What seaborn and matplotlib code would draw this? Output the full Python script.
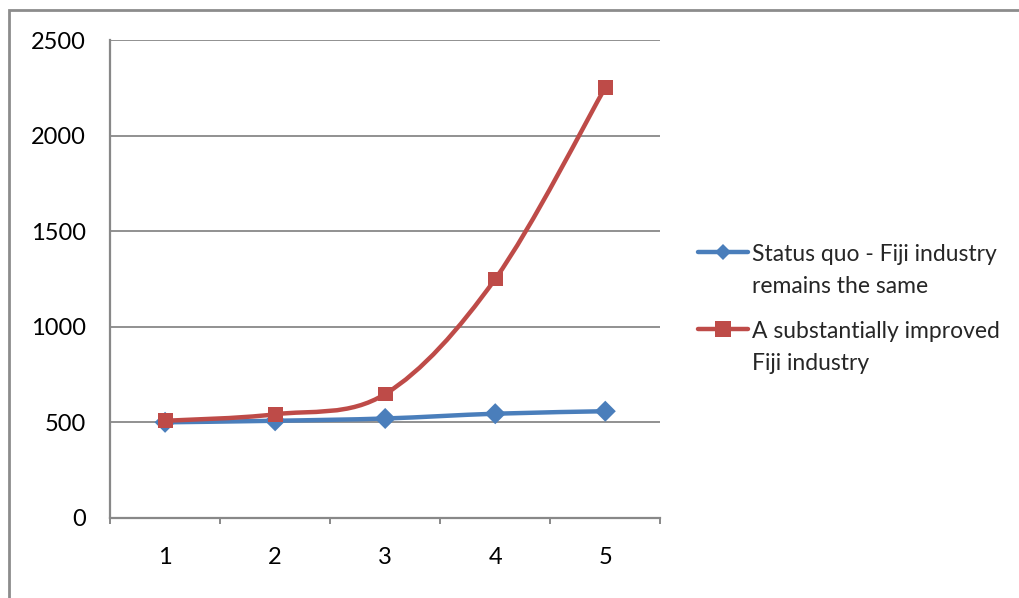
import numpy as np
import pandas as pd
import matplotlib
matplotlib.use("Agg")
import matplotlib.pyplot as plt
from matplotlib.path import Path
from matplotlib.patches import PathPatch, Rectangle
from matplotlib.lines import Line2D
import seaborn as sns

# data
years = [1, 2, 3, 4, 5]
status_quo = [500, 508, 520, 545, 558]
improved = [508, 542, 648, 1250, 2252]
series_names = ["Status quo - Fiji industry\nremains the same",
                "A substantially improved\nFiji industry"]
y_ticks = [0, 500, 1000, 1500, 2000, 2500]

blue = "#4A7EBB"
red = "#BE4B48"
grid_gray = "#888888"

sns.set_style("white")
plt.rcParams["font.family"] = ["Lato", "DejaVu Sans"]
plt.rcParams["font.size"] = 17

df = pd.DataFrame({
    "year": years * 2,
    "value": status_quo + improved,
    "series": [series_names[0]] * 5 + [series_names[1]] * 5,
})

fig = plt.figure(figsize=(10.19, 5.98), dpi=100)
ax = fig.add_axes([0.108, 0.134, 0.540, 0.799])


def smooth_path(xs, ys):
    # Excel-style smoothed line: cubic bezier with control points from neighbours
    pts = np.column_stack([xs, ys]).astype(float)
    padded = np.vstack([pts[0], pts, pts[-1]])
    verts = [pts[0]]
    codes = [Path.MOVETO]
    for i in range(len(pts) - 1):
        p0, p1, p2, p3 = padded[i], padded[i + 1], padded[i + 2], padded[i + 3]
        verts += [p1 + (p2 - p0) / 6, p2 - (p3 - p1) / 6, p2]
        codes += [Path.CURVE4] * 3
    return Path(verts, codes)


for vals, col, z in [(status_quo, blue, 3), (improved, red, 5)]:
    ax.add_patch(PathPatch(smooth_path(years, vals), facecolor="none",
                           edgecolor=col, lw=3.2, capstyle="round", zorder=z))

sns.scatterplot(data=df, x="year", y="value", hue="series", style="series",
                palette=[blue, red], markers=["D", "s"], s=[115],
                edgecolor="none", legend=False, ax=ax)
# make red markers sit above the blue ones
for coll, z in zip(ax.collections, [4, 6]):
    coll.set_zorder(z)

ax.set_xlim(0.5, 5.5)
ax.set_ylim(0, 2500)
ax.set_yticks(y_ticks)
ax.set_xticks(years)
ax.set_xticks(np.arange(0.5, 6, 1), minor=True)
ax.set_xlabel("")
ax.set_ylabel("")
ax.yaxis.grid(True, color=grid_gray, lw=1.3)
ax.set_axisbelow(True)

for side in ["top", "right"]:
    ax.spines[side].set_visible(False)
for side in ["left", "bottom"]:
    ax.spines[side].set_color(grid_gray)
    ax.spines[side].set_linewidth(1.6)

ax.tick_params(axis="y", which="major", direction="out", length=4.5, width=1.4,
               color=grid_gray, pad=13, labelcolor="black")
ax.tick_params(axis="x", which="major", length=0, pad=21, labelcolor="black")
ax.tick_params(axis="x", which="minor", direction="out", length=4.5, width=1.4,
               color=grid_gray, bottom=True)

handles = [
    Line2D([], [], color=blue, lw=3.2, marker="D", markersize=8.5, markeredgewidth=0),
    Line2D([], [], color=red, lw=3.2, marker="s", markersize=11, markeredgewidth=0),
]
leg = fig.legend(handles, series_names, loc="upper left",
                 bbox_to_anchor=(0.685, 0.592), frameon=False,
                 borderpad=0, borderaxespad=0,
                 handlelength=2.18, handletextpad=0.17, labelspacing=1.05,
                 fontsize=16.5)
for t in leg.get_texts():
    t.set_linespacing(1.65)
# align each legend marker with the first line of its label
for col in leg._legend_handle_box.get_children():
    for row in col.get_children():
        row.align = "top"

# chart frame, only the left and top edges are inside the image
fig.patches.append(Rectangle((0.0093, -0.1), 1.2, 1.083, transform=fig.transFigure,
                             fill=False, edgecolor="#8C8C8C", lw=2.0))

fig.savefig("out.png", dpi=100)
